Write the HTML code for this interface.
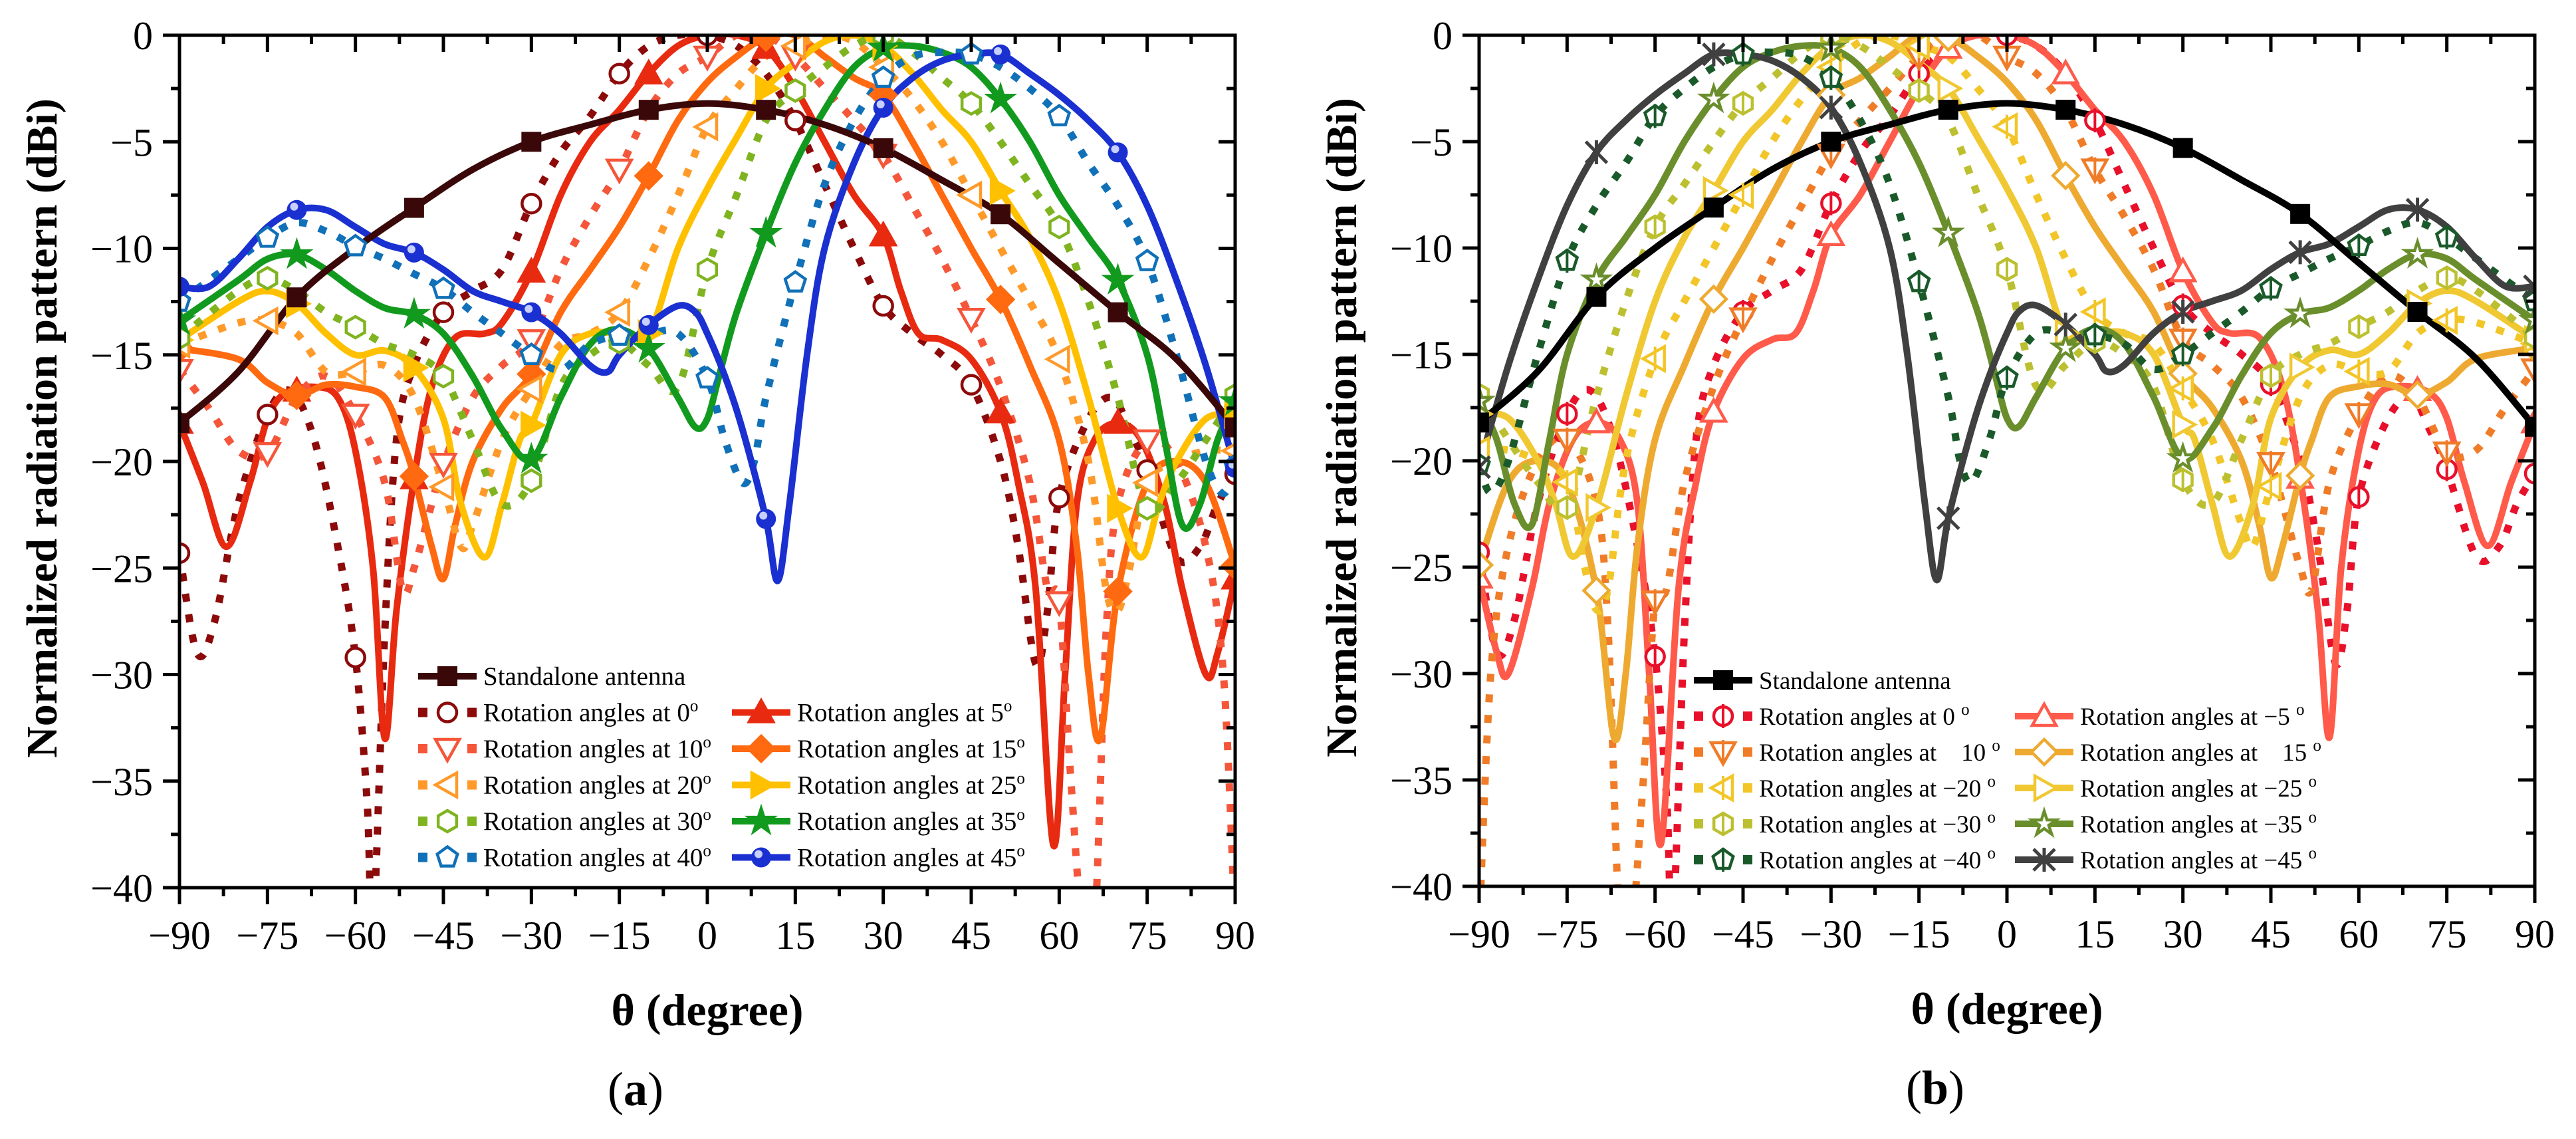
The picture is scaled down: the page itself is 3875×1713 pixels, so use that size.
<!DOCTYPE html>
<html><head><meta charset="utf-8"><style>
html,body{margin:0;padding:0;background:#fff;}
svg{display:block;font-family:"Liberation Serif","Times New Roman",serif;}
</style></head><body>
<svg id="fig" width="3875" height="1713" viewBox="0 0 3875 1713" xmlns="http://www.w3.org/2000/svg"></svg>
<script>
// ---------- data ----------
const xTicks = [-90,-75,-60,-45,-30,-15,0,15,30,45,60,75,90];
const yTicks = [0,-5,-10,-15,-20,-25,-30,-35,-40];

const angSA = [-90,-80,-70,-60,-50,-40,-30,-20,-10,0,10,20,30,40,50,60,70,80,90];
const valSA = [-18.2,-15.8,-12.3,-10,-8.1,-6.3,-5.0,-4.2,-3.5,-3.2,-3.5,-4.2,-5.3,-6.8,-8.4,-10.7,-13,-15.2,-18.4];

const ang0 = [-90,-87,-84,-80,-75,-71,-67,-63,-60,-58,-57,-55,-53,-50,-45,-40,-35,-30,-25,-20,-15,-10,-5,0,5,10,15,20,25,30,35,40,45,50,53,56,58,60,65,69,72,75,80,84,87,90];
const val0 = [-24.3,-29,-27.5,-22,-17.8,-16.7,-19,-24,-29.2,-36,-42,-28,-19,-15.5,-13,-12,-11,-7.9,-5.5,-3.8,-1.8,-0.5,0,0,-0.5,-1.8,-4,-7,-10,-12.7,-14,-15,-16.4,-20,-24,-29.5,-27,-21.7,-18,-17,-18.5,-20.4,-24.5,-24,-22,-20.6];

const ang5 = [-90,-86,-82,-78,-75,-72,-67,-63,-60,-57,-55,-53,-50,-47,-43,-38,-35,-30,-25,-20,-15,-10,-5,0,5,10,15,20,25,30,33,36,40,45,50,53,56,59,61,63,66,70,74,78,81,85,87,90];
const val5 = [-18.2,-21,-24,-21,-18,-16.8,-16.5,-17,-19.5,-25,-33,-27,-20.8,-16.5,-14.2,-14,-13.5,-11.1,-7.5,-5,-3.5,-1.8,-0.5,0,0,-0.6,-2.5,-5,-7.5,-9.4,-12,-14,-14.3,-15.2,-17.7,-21,-26,-38,-30,-22,-19,-18.2,-19,-22,-26,-30,-29,-25.5];

const ang10 = [-90,-85,-80,-75,-70,-65,-60,-55,-52,-50,-47,-45,-40,-35,-30,-25,-20,-15,-10,-5,0,5,10,15,20,25,30,35,40,45,50,55,58,60,62,64,66,68,70,75,80,85,88,90];
const val10 = [-15.7,-17.5,-19.5,-19.6,-17,-16,-17.8,-21,-26,-25,-22,-20.1,-17,-15.5,-14.3,-11,-8.5,-6.3,-3.5,-1.8,-1,0,0,-1,-2.5,-4,-5.6,-8,-10.5,-13.3,-16.5,-21,-26,-26.6,-35,-42,-42,-28,-22,-19,-20,-24,-30,-42];

const ang15 = [-90,-80,-75,-70,-65,-60,-55,-52,-50,-47,-45,-43,-40,-35,-30,-25,-20,-15,-10,-5,0,5,10,15,20,25,30,35,40,45,50,55,60,63,65,67,70,75,80,85,90];
const val15 = [-14.7,-15.2,-16.3,-16.9,-16.4,-16.5,-17,-19,-20.7,-24,-25.5,-23,-20,-17.5,-15.9,-13,-11,-9,-6.6,-4,-2.2,-1,-0.1,0,-1,-2,-2.8,-5,-7.5,-10,-12.4,-15.5,-19,-24,-30,-33,-26.1,-21,-20,-21,-24.9];

const ang20 = [-90,-80,-75,-70,-65,-60,-55,-50,-45,-42,-40,-35,-30,-25,-20,-15,-10,-5,0,5,10,15,20,25,30,35,40,45,50,55,60,65,68,70,72,75,80,85,90];
const val20 = [-14.5,-13.5,-13.4,-14,-15.8,-15.8,-15.5,-17,-21.2,-24,-23,-19,-16.6,-14.5,-14,-13,-10.5,-7.5,-4.3,-2.5,-1,-0.5,0,-0.3,-1.5,-3,-5,-7.5,-10,-12.5,-15.2,-20,-26,-27,-25,-21,-20,-19.5,-19.5];

const ang25 = [-90,-80,-75,-70,-65,-60,-55,-50,-45,-42,-38,-35,-32,-30,-25,-20,-15,-10,-5,0,5,10,15,20,25,30,35,40,45,50,55,60,65,70,74,77,80,85,90];
const val25 = [-14.3,-12.5,-12,-12.6,-14,-15,-14.8,-15.6,-18,-22,-24.5,-22,-19,-18.3,-15,-14,-14,-14,-10,-7.2,-4.8,-2.5,-1.3,-0.3,0,-0.5,-1.8,-3.5,-5,-7.3,-9.5,-12.5,-17,-22.2,-24.5,-22,-20,-18,-17.8];

const ang30 = [-90,-80,-75,-70,-65,-60,-55,-50,-45,-40,-35,-30,-25,-20,-15,-10,-5,0,5,10,15,20,25,30,35,40,45,50,55,60,65,70,75,80,85,90];
const val30 = [-14.2,-12,-11.4,-12,-13,-13.7,-14.5,-15,-16,-19,-22,-20.9,-16.5,-15,-14.4,-15.5,-16.5,-11,-7.5,-4,-2.6,-1.5,-0.5,0,-0.8,-2,-3.2,-5,-7,-9,-12.5,-17,-22.2,-21,-19,-16.9];

const ang35 = [-90,-80,-75,-70,-65,-60,-55,-50,-45,-40,-35,-30,-25,-20,-15,-10,-5,-2,0,2,5,10,15,20,25,30,35,40,45,50,55,60,65,70,75,78,81,84,87,90];
const val35 = [-13.4,-11.5,-10.5,-10.3,-11,-12,-12.8,-13.1,-14,-16,-18.5,-19.9,-17,-14.5,-13.8,-14.7,-17,-18.4,-18,-16,-13,-9.3,-6,-3.5,-1.5,-0.6,-0.5,-0.8,-1.5,-3,-5,-7.5,-9.5,-11.5,-15,-19,-23,-22,-19,-17.2];

const ang40 = [-90,-80,-75,-70,-65,-60,-55,-50,-45,-40,-35,-30,-25,-20,-15,-10,-5,0,3,6,8,10,15,20,25,30,35,40,45,50,55,60,65,70,75,80,85,88,90];
const val40 = [-12.5,-10.5,-9.5,-8.8,-9.2,-9.9,-10.5,-11.2,-11.9,-13,-14,-15,-15.7,-14.5,-14.1,-14,-14,-16.1,-19,-21,-20,-17,-11.6,-7,-4,-2,-1,-0.8,-0.9,-1.5,-2.5,-3.8,-6,-8,-10.6,-15,-20,-21.5,-20.2];

const ang45 = [-90,-85,-80,-75,-70,-65,-60,-55,-50,-45,-40,-35,-30,-25,-20,-17,-15,-10,-5,-2,0,3,6,10,12,14,17,20,25,30,35,40,45,50,55,60,65,70,75,80,85,90];
const val45 = [-11.8,-11.8,-10.5,-9,-8.2,-8.2,-9,-9.8,-10.2,-11,-12,-12.5,-13,-14,-15.5,-15.8,-15,-13.6,-12.7,-13,-14,-16,-18.5,-22.7,-25.6,-22,-15,-10,-6,-3.4,-2,-1.2,-0.9,-0.9,-1.8,-2.8,-4,-5.5,-8,-11.5,-15.5,-20.3];

// panel (b): negative rotations (angle arrays mirrored)
const angB5 = [90,86,82,78,75,72,67,63,60,57,55,53,50,47,43,38,35,30,25,20,15,10,5,0,-5,-10,-15,-20,-25,-30,-33,-36,-40,-45,-50,-53,-56,-59,-61,-63,-66,-70,-74,-78,-81,-85,-87,-90];
const angB10 = [90,85,80,75,70,65,60,55,52,50,47,45,40,35,30,25,20,15,10,5,0,-5,-10,-15,-20,-25,-30,-35,-40,-45,-50,-55,-58,-60,-62,-64,-66,-68,-70,-75,-80,-85,-88,-90];
const angB15 = [90,80,75,70,65,60,55,52,50,47,45,43,40,35,30,25,20,15,10,5,0,-5,-10,-15,-20,-25,-30,-35,-40,-45,-50,-55,-60,-63,-65,-67,-70,-75,-80,-85,-90];
const angB20 = [90,80,75,70,65,60,55,50,45,42,40,35,30,25,20,15,10,5,0,-5,-10,-15,-20,-25,-30,-35,-40,-45,-50,-55,-60,-65,-68,-70,-72,-75,-80,-85,-90];
const angB25 = [90,80,75,70,65,60,55,50,45,42,38,35,32,30,25,20,15,10,5,0,-5,-10,-15,-20,-25,-30,-35,-40,-45,-50,-55,-60,-65,-70,-74,-77,-80,-85,-90];
const angB30 = [90,80,75,70,65,60,55,50,45,40,35,30,25,20,15,10,5,0,-5,-10,-15,-20,-25,-30,-35,-40,-45,-50,-55,-60,-65,-70,-75,-80,-85,-90];
const angB35 = [90,80,75,70,65,60,55,50,45,40,35,30,25,20,15,10,5,2,0,-2,-5,-10,-15,-20,-25,-30,-35,-40,-45,-50,-55,-60,-65,-70,-75,-78,-81,-84,-87,-90];
const angB40 = [90,80,75,70,65,60,55,50,45,40,35,30,25,20,15,10,5,0,-3,-6,-8,-10,-15,-20,-25,-30,-35,-40,-45,-50,-55,-60,-65,-70,-75,-80,-85,-88,-90];
const angB45 = [90,85,80,75,70,65,60,55,50,45,40,35,30,25,20,17,15,10,5,2,0,-3,-6,-10,-12,-14,-17,-20,-25,-30,-35,-40,-45,-50,-55,-60,-65,-70,-75,-80,-85,-90];

const seriesA = [
 {name:'standalone',label:'Standalone antenna',ang:angSA,val:valSA,color:'#3a0808',dash:false,mk:'square',fill:true},
 {name:'rot-0',label:'Rotation angles at 0',ang:ang0,val:val0,color:'#8c0a0a',dash:true,mk:'circle',fill:false},
 {name:'rot-5',label:'Rotation angles at 5',ang:ang5,val:val5,color:'#e82a10',dash:false,mk:'triup',fill:true},
 {name:'rot-10',label:'Rotation angles at 10',ang:ang10,val:val10,color:'#f5563a',dash:true,mk:'tridown',fill:false},
 {name:'rot-15',label:'Rotation angles at 15',ang:ang15,val:val15,color:'#ff6a10',dash:false,mk:'diamond',fill:true},
 {name:'rot-20',label:'Rotation angles at 20',ang:ang20,val:val20,color:'#ff9a2a',dash:true,mk:'trileft',fill:false},
 {name:'rot-25',label:'Rotation angles at 25',ang:ang25,val:val25,color:'#ffc000',dash:false,mk:'triright',fill:true},
 {name:'rot-30',label:'Rotation angles at 30',ang:ang30,val:val30,color:'#7fb420',dash:true,mk:'hex',fill:false},
 {name:'rot-35',label:'Rotation angles at 35',ang:ang35,val:val35,color:'#129a1e',dash:false,mk:'star',fill:true},
 {name:'rot-40',label:'Rotation angles at 40',ang:ang40,val:val40,color:'#1070b8',dash:true,mk:'pent',fill:false},
 {name:'rot-45',label:'Rotation angles at 45',ang:ang45,val:val45,color:'#1a30d0',dash:false,mk:'sphere',fill:true}
];
const seriesB = [
 {name:'standalone',label:'Standalone antenna',ang:angSA,val:valSA,color:'#000000',dash:false,mk:'square',fill:true},
 {name:'rot-0',label:'Rotation angles at 0 ',ang:ang0,val:val0,color:'#e8102a',dash:true,mk:'circle',fill:false,cross:true},
 {name:'rot-m5',label:'Rotation angles at \u22125 ',ang:angB5,val:val5,color:'#ff5a4a',dash:false,mk:'triup',fill:false},
 {name:'rot-10',label:'Rotation angles at \u2002 10 ',ang:angB10,val:val10,color:'#f07c28',dash:true,mk:'tridown',fill:false,cross:true},
 {name:'rot-15',label:'Rotation angles at \u2002 15 ',ang:angB15,val:val15,color:'#eeaa30',dash:false,mk:'diamond',fill:false},
 {name:'rot-m20',label:'Rotation angles at \u221220 ',ang:angB20,val:val20,color:'#f2c628',dash:true,mk:'trileft',fill:false,cross:true},
 {name:'rot-m25',label:'Rotation angles at \u221225 ',ang:angB25,val:val25,color:'#f0c832',dash:false,mk:'triright',fill:false},
 {name:'rot-m30',label:'Rotation angles at \u221230 ',ang:angB30,val:val30,color:'#bcc030',dash:true,mk:'hex',fill:false,cross:true},
 {name:'rot-m35',label:'Rotation angles at \u221235 ',ang:angB35,val:val35,color:'#6a8e2c',dash:false,mk:'star',fill:false},
 {name:'rot-m40',label:'Rotation angles at \u221240 ',ang:angB40,val:val40,color:'#1a5a2a',dash:true,mk:'pent',fill:false,cross:true},
 {name:'rot-m45',label:'Rotation angles at \u221245 ',ang:angB45,val:val45,color:'#404040',dash:false,mk:'asterisk',fill:false}
];

// ---------- drawing ----------
const NS='http://www.w3.org/2000/svg';
const svg=document.getElementById('fig');
function el(tag,attrs,parent){const e=document.createElementNS(NS,tag);for(const k in attrs)e.setAttribute(k,attrs[k]);(parent||svg).appendChild(e);return e;}

function interp(ang,val,a){
  const idx=ang.map((v,i)=>i).sort((i,j)=>ang[i]-ang[j]);
  for(let k=0;k<idx.length-1;k++){const i=idx[k],j=idx[k+1];
    if(a>=ang[i]&&a<=ang[j]){const t=(a-ang[i])/(ang[j]-ang[i]||1);return val[i]+t*(val[j]-val[i]);}}
  return null;
}

function drawMarker(g,type,x,y,color,fill,cross){
  const f=fill?color:'#fff', sw=4.5, s=16;
  let m;
  const poly=(pts)=>el('polygon',{points:pts.map(p=>(x+p[0])+','+(y+p[1])).join(' '),fill:f,stroke:color,'stroke-width':sw,'stroke-linejoin':'miter'},g);
  if(type==='square') m=el('rect',{x:x-15,y:y-15,width:30,height:30,fill:color},g);
  else if(type==='circle') m=el('circle',{cx:x,cy:y,r:14,fill:f,stroke:color,'stroke-width':sw},g);
  else if(type==='sphere'){m=el('circle',{cx:x,cy:y,r:15,fill:color},g);el('circle',{cx:x-4,cy:y-5,r:6,fill:'#c8d0ff'},g);}
  else if(type==='triup') m=poly([[0,-s-2],[s+2,s-2],[-s-2,s-2]]);
  else if(type==='tridown') m=poly([[0,s+2],[s+2,-s+2],[-s-2,-s+2]]);
  else if(type==='trileft') m=poly([[-s-2,0],[s-2,-s-2],[s-2,s+2]]);
  else if(type==='triright') m=poly([[s+2,0],[-s+2,-s-2],[-s+2,s+2]]);
  else if(type==='diamond') m=poly([[0,-s-3],[s+3,0],[0,s+3],[-s-3,0]]);
  else if(type==='hex'){const p=[];for(let k=0;k<6;k++){const a=Math.PI/6+k*Math.PI/3;p.push([s*Math.cos(a),s*Math.sin(a)]);}m=poly(p);}
  else if(type==='pent'){const p=[];for(let k=0;k<5;k++){const a=-Math.PI/2+k*2*Math.PI/5;p.push([s*Math.cos(a),s*Math.sin(a)]);}m=poly(p);}
  else if(type==='star'){const p=[];for(let k=0;k<10;k++){const a=-Math.PI/2+k*Math.PI/5;const r=k%2?s*0.45:s+3;p.push([r*Math.cos(a),r*Math.sin(a)]);}m=poly(p);}
  else if(type==='asterisk'){m=el('path',{d:`M${x-s},${y-s}L${x+s},${y+s}M${x+s},${y-s}L${x-s},${y+s}M${x},${y-s-2}L${x},${y+s+2}`,stroke:color,'stroke-width':5,fill:'none'},g);}
  if(cross) el('line',{x1:x,y1:y-s-2,x2:x,y2:y+s+2,stroke:color,'stroke-width':4},g);
  return m;
}

function smoothPath(pts){
  let d='M'+pts[0][0].toFixed(1)+','+pts[0][1].toFixed(1);
  for(let i=0;i<pts.length-1;i++){
    const p0=pts[i-1]||pts[i],p1=pts[i],p2=pts[i+1],p3=pts[i+2]||p2;
    const c1=[p1[0]+(p2[0]-p0[0])/6,p1[1]+(p2[1]-p0[1])/6];
    const c2=[p2[0]-(p3[0]-p1[0])/6,p2[1]-(p3[1]-p1[1])/6];
    d+='C'+c1[0].toFixed(1)+','+c1[1].toFixed(1)+' '+c2[0].toFixed(1)+','+c2[1].toFixed(1)+' '+p2[0].toFixed(1)+','+p2[1].toFixed(1);
  }
  return d;
}

function drawPanel(P){
  const {x0,x1,y0,y1,series,tag,legend}=P;
  const sx=a=>x0+(a+90)/180*(x1-x0);
  const sy=v=>y0+(0-v)/40*(y1-y0);
  const g=el('g',{});
  
  
  const clip=el('clipPath',{id:'clip-'+tag},g);
  el('rect',{x:x0,y:y0-2,width:x1-x0,height:y1-y0+4},clip);
  const sg=el('g',{'clip-path':'url(#clip-'+tag+')'},g);
  
  
  const order=series.slice(1).concat([series[0]]);
  order.forEach(s=>{
    const idx=s.ang.map((v,i)=>i).sort((i,j)=>s.ang[i]-s.ang[j]);
    const pts=idx.map(i=>[sx(s.ang[i]),sy(s.val[i])]);
    const p=el('path',{d:smoothPath(pts),fill:'none',stroke:s.color,'stroke-width':s.dash?11:10,'stroke-dasharray':s.dash?'12 19':'none','stroke-linejoin':'round'},sg);
    
    
  });
  order.forEach(s=>{
    const mg=el('g',{},sg);
    
    
    const mAngles=s.dash?[-90,-75,-60,-45,-30,-15,0,15,30,45,60,75,90]:[-90,-70,-50,-30,-10,10,30,50,70,90];
    mAngles.forEach(a=>{const v=interp(s.ang,s.val,a);if(v===null||v<-40.5)return;
      const m=drawMarker(mg,s.mk,sx(a),sy(v),s.color,s.fill,s.cross);
      
      });
  });
  const fr=el('rect',{x:x0,y:y0,width:x1-x0,height:y1-y0,fill:'none',stroke:'#000','stroke-width':5},g);
  
  
  const tk=el('g',{stroke:'#000','stroke-width':5},g);
  
  
  for(let a=-90;a<=90;a+=7.5){const major=(a%15===0);const L=major?25:13;const X=sx(a);
    el('line',{x1:X,y1:y1,x2:X,y2:y1+L},tk); el('line',{x1:X,y1:y0,x2:X,y2:y0+L},tk);}
  for(let v=0;v>=-40;v-=2.5){const major=(v%5===0);const L=major?25:13;const Y=sy(v);
    el('line',{x1:x0,y1:Y,x2:x0-L,y2:Y},tk); el('line',{x1:x1,y1:Y,x2:x1-L,y2:Y},tk);}
  xTicks.forEach(a=>{const t=el('text',{x:sx(a),y:y1+92,'font-size':60,'text-anchor':'middle'},g);
    t.textContent=(a<0?'\u2212':'')+Math.abs(a);
    
    });
  yTicks.forEach(v=>{const t=el('text',{x:x0-40,y:sy(v)+21,'font-size':60,'text-anchor':'end'},g);
    t.textContent=(v<0?'\u2212':'')+Math.abs(v);
    
    });
  const xt=el('text',{x:(x0+x1)/2,y:y1+207,'font-size':68,'font-weight':'bold','text-anchor':'middle'},g);
  xt.textContent='\u03b8 (degree)';
  
  
  const yt=el('text',{x:0,y:0,'font-size':66,'font-weight':'bold','text-anchor':'middle',transform:`translate(${x0-185},${(y0+y1)/2-50}) rotate(-90)`},g);
  yt.textContent='Normalized radiation pattern (dBi)';
  
  
  const pt=el('text',{x:(x0+x1)/2-108,y:y1+327,'font-size':72,'text-anchor':'middle'},g);
  pt.innerHTML='(<tspan font-weight="bold">'+tag+'</tspan>)';
  
  
  const lg=el('g',{},g);
  
  
  series.forEach((s,i)=>{
    let col,row;
    if(i===0){col=0;row=0;} else {col=(i%2===1)?0:1;row=Math.ceil(i/2);}
    const lx=legend.cols[col], ly=legend.y0+row*legend.dy;
    const e=el('g',{},lg);
    
    
    if(s.dash){
      el('line',{x1:lx,y1:ly,x2:lx+88,y2:ly,stroke:s.color,'stroke-width':14,'stroke-dasharray':'14 60'},e);
    } else el('line',{x1:lx,y1:ly,x2:lx+88,y2:ly,stroke:s.color,'stroke-width':10},e);
    drawMarker(e,s.mk,lx+44,ly,s.color,s.fill,s.cross);
    const t=el('text',{x:lx+98,y:ly+13,'font-size':legend.fs},e);
    if(i===0) t.textContent=s.label;
    else t.innerHTML=s.label+'<tspan dy="-15" font-size="25">o</tspan>';
  });
}

drawPanel({x0:270,x1:1858,y0:53,y1:1335,series:seriesA,tag:'a',legend:{cols:[629,1101],y0:1017,dy:54.5,fs:39}});
drawPanel({x0:2225,x1:3813,y0:53,y1:1333,series:seriesB,tag:'b',legend:{cols:[2548,3031],y0:1023,dy:54,fs:37}});
</script>
</body></html>
